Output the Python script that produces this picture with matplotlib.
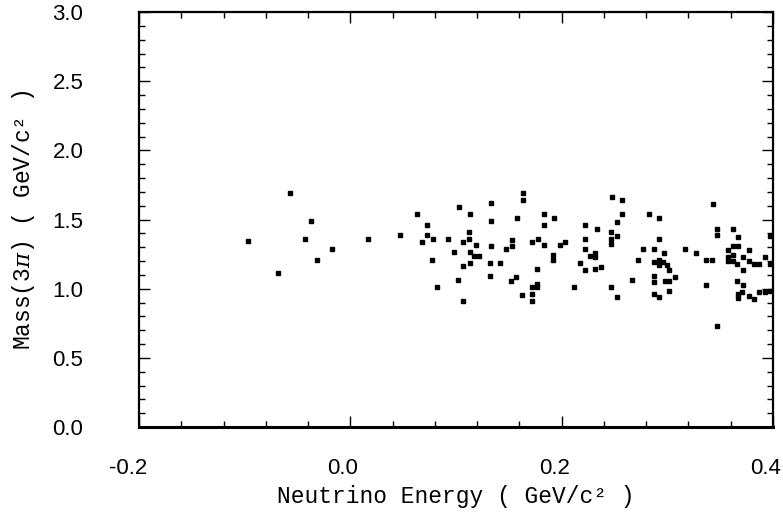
import matplotlib
matplotlib.use("Agg")
import matplotlib.pyplot as plt
import matplotlib.transforms as mtransforms
from matplotlib.ticker import MultipleLocator

plt.rcParams["mathtext.fontset"] = "dejavuserif"

# neutrino energy (GeV/c^2)
energy = [
    -0.097, -0.057, -0.068, -0.037, -0.043, -0.032, -0.017, 0.017,
    0.047, 0.063, 0.068, 0.073, 0.073, 0.078, 0.077, 0.082, 0.092, 0.098,
    0.102, 0.103, 0.107, 0.107, 0.107, 0.112, 0.112, 0.113, 0.113, 0.113,
    0.117, 0.119, 0.122, 0.133, 0.133, 0.133, 0.132, 0.132, 0.142, 0.147,
    0.152, 0.153, 0.153, 0.157, 0.158, 0.162, 0.163, 0.163, 0.172, 0.172,
    0.172, 0.172, 0.177, 0.177, 0.177, 0.178, 0.183, 0.183, 0.183, 0.192,
    0.192, 0.193, 0.198, 0.203, 0.212, 0.217, 0.222, 0.222, 0.222, 0.222,
    0.227, 0.232, 0.232, 0.232, 0.233, 0.237, 0.247, 0.247, 0.247, 0.248,
    0.247, 0.252, 0.252, 0.252, 0.257, 0.257, 0.267, 0.272,
    0.277, 0.283, 0.287, 0.287, 0.287, 0.287, 0.287, 0.292, 0.292, 0.292,
    0.292, 0.292, 0.296, 0.297, 0.298, 0.300, 0.302, 0.302, 0.302, 0.307,
    0.317, 0.327, 0.337, 0.342, 0.337, 0.343, 0.347, 0.347, 0.347, 0.357,
    0.357, 0.357, 0.362, 0.362, 0.362, 0.362, 0.366, 0.366, 0.367, 0.367,
    0.367, 0.367, 0.371, 0.372, 0.372, 0.372, 0.377, 0.377, 0.377, 0.382,
    0.382, 0.387, 0.387, 0.392, 0.392, 0.397, 0.397, 0.397,
]
# 3-pion mass (GeV/c^2)
mass = [
    1.343, 1.690, 1.116, 1.490, 1.360, 1.210, 1.290, 1.360,
    1.388, 1.538, 1.340, 1.463, 1.390, 1.360, 1.210, 1.012, 1.360, 1.263,
    1.063, 1.591, 1.338, 1.162, 0.913, 1.412, 1.360, 1.263, 1.188, 1.542,
    1.236, 1.314, 1.236, 1.617, 1.489, 1.309, 1.186, 1.090, 1.186, 1.285,
    1.058, 1.350, 1.310, 1.082, 1.509, 0.954, 1.692, 1.639, 1.340, 1.015,
    0.962, 0.913, 1.140, 1.036, 1.015, 1.362, 1.538, 1.463, 1.316, 1.240,
    1.210, 1.511, 1.318, 1.335, 1.015, 1.188, 1.463, 1.359, 1.285, 1.137,
    1.234, 1.140, 1.229, 1.256, 1.434, 1.159, 1.410, 1.360, 1.320, 1.665,
    1.010, 1.485, 1.383, 0.938, 1.639, 1.538, 1.060, 1.207,
    1.287, 1.540, 1.287, 1.190, 1.090, 1.050, 0.959, 1.511, 1.359, 1.210,
    1.170, 0.938, 1.190, 1.258, 1.058, 1.170, 1.135, 1.058, 0.986, 1.082,
    1.285, 1.256, 1.207, 1.207, 1.029, 1.612, 1.430, 1.390, 0.728, 1.280,
    1.230, 1.200, 1.429, 1.306, 1.240, 1.200, 1.178, 1.058, 1.376, 1.306,
    0.960, 0.930, 0.978, 1.229, 1.133, 1.027, 1.280, 1.203, 0.949, 0.928,
    1.178, 1.178, 0.976, 1.227, 0.976, 1.380, 1.176, 0.980,
]

xticks = [-0.2, 0.0, 0.2, 0.4]
xtick_labels = ["-0.2", "0.0", "0.2", "0.4"]
yticks = [0.0, 0.5, 1.0, 1.5, 2.0, 2.5, 3.0]
ytick_labels = ["0.0", "0.5", "1.0", "1.5", "2.0", "2.5", "3.0"]

LABEL_FONT = "Liberation Mono"
TICK_FONT = "Liberation Sans"

fig = plt.figure(figsize=(7.83, 5.19), dpi=100)
ax = fig.add_axes([139 / 783, 1 - 427 / 519, (773 - 139) / 783, (427 - 12) / 519])

ax.plot(energy, mass, ls="none", marker="s", ms=3.0, color="black", mec="black")

ax.set_xlim(-0.2, 0.4)
ax.set_ylim(0.0, 3.0)
ax.set_xticks(xticks)
ax.set_xticklabels(xtick_labels, fontfamily=TICK_FONT, fontsize=16)
ax.set_yticks(yticks)
ax.set_yticklabels(ytick_labels, fontfamily=TICK_FONT, fontsize=16)
ax.xaxis.set_minor_locator(MultipleLocator(0.04))
ax.yaxis.set_minor_locator(MultipleLocator(0.1))

ax.tick_params(which="both", direction="in", top=True, right=True, width=1.0)
ax.tick_params(which="major", length=8)
ax.tick_params(which="minor", length=4.5)
ax.tick_params(axis="x", which="major", pad=22)
ax.tick_params(axis="y", which="major", pad=40)

# x tick labels sit right-aligned just past their tick, as in the original
shift = mtransforms.ScaledTranslation(8 / 100, 0, fig.dpi_scale_trans)
for lab in ax.get_xticklabels():
    lab.set_horizontalalignment("right")
    lab.set_transform(lab.get_transform() + shift)

for sp in ax.spines.values():
    sp.set_linewidth(1.6)
ax.spines["bottom"].set_linewidth(2.2)

ax.set_xlabel("Neutrino Energy ( GeV/c\u00b2 )", fontfamily=LABEL_FONT,
              fontsize=16.5, labelpad=5)
ax.set_ylabel("Mass(3$\\pi$) ( GeV/c\u00b2 )", fontfamily=LABEL_FONT,
              fontsize=16.5, labelpad=11)

fig.savefig("out.png", dpi=100)
